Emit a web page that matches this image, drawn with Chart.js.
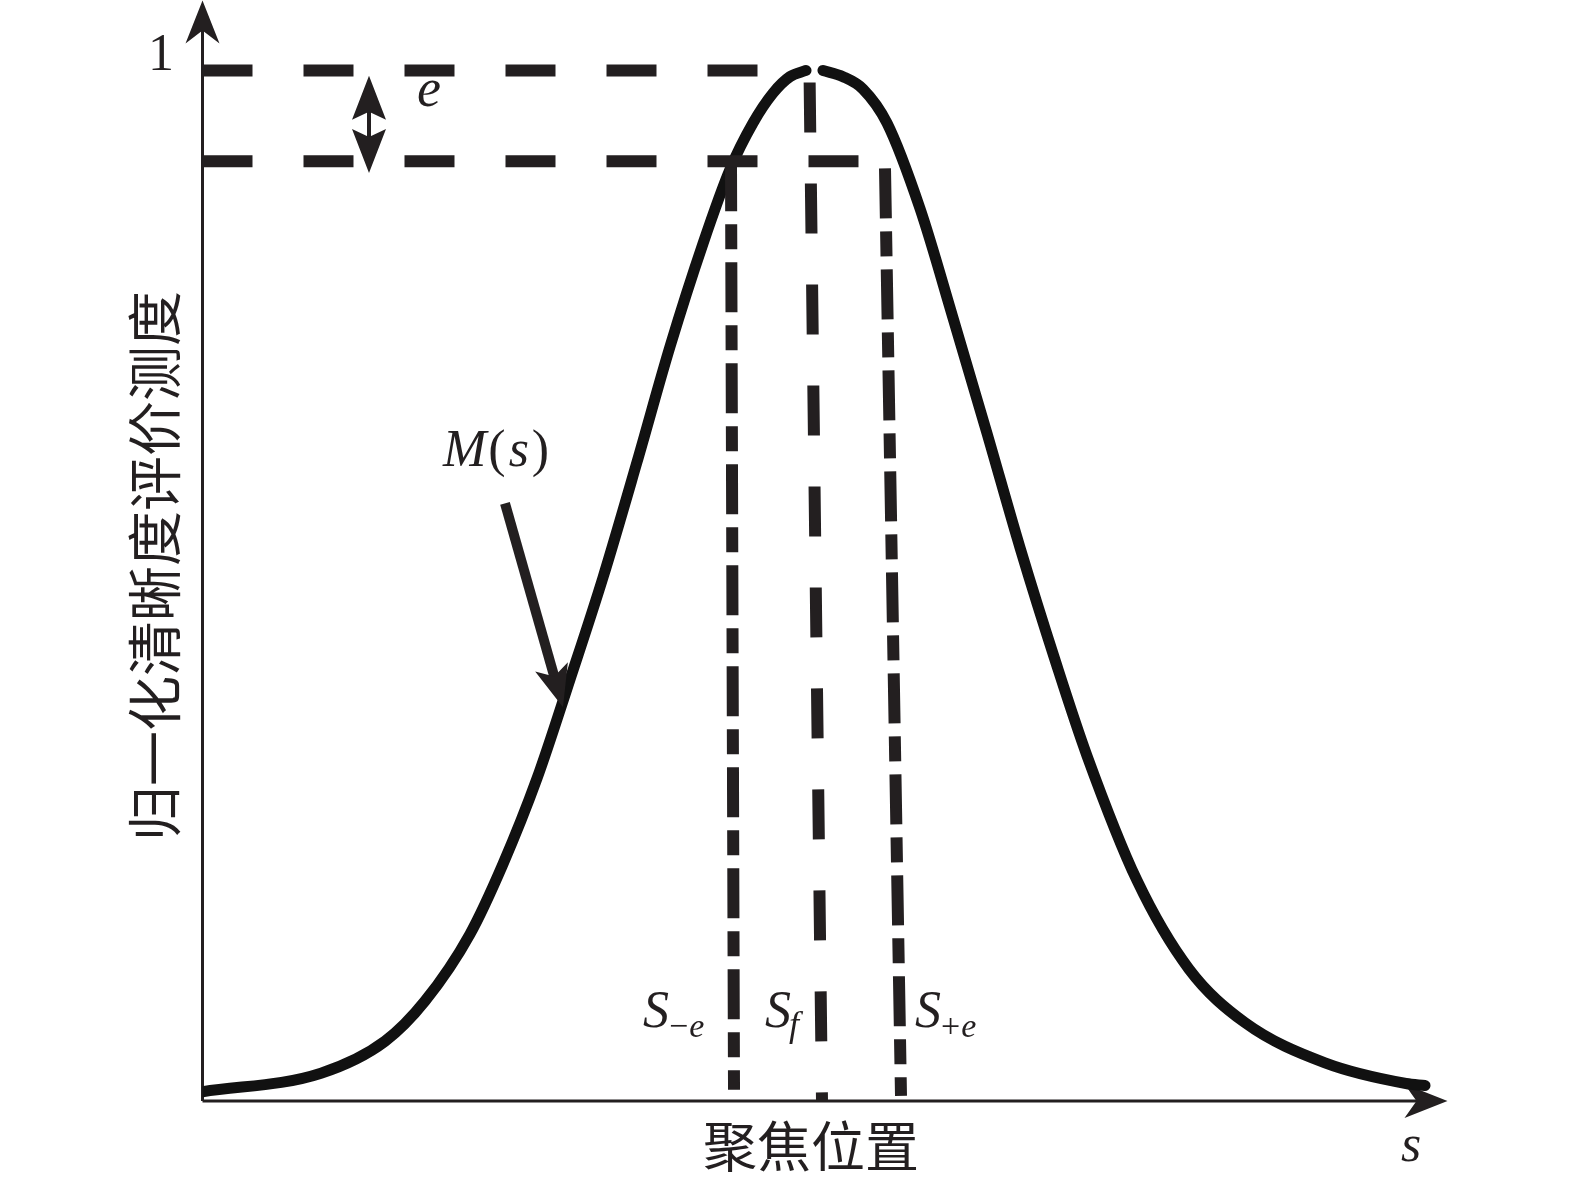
<!DOCTYPE html>
<html>
<head>
<meta charset="utf-8">
<script src="https://cdn.jsdelivr.net/npm/chart.js@4.4.0/dist/chart.umd.min.js"></script>
<style>
    html, body { margin: 0; padding: 0; background: #ffffff; }
    #wrap { width: 1575px; height: 1178px; }
</style>
</head>
<body>
<div id="wrap"><canvas id="chart" width="1575" height="1178"></canvas></div>
<script>
// Кривая M(s): положение фокуса -> нормированная мера резкости
const curveX = [0, 1.185, 1.825, 2.225, 2.675, 3.005, 3.345, 3.675, 4.005, 4.345, 4.675, 5.005, 5.275, 5.505, 5.705, 5.875, 6.035, 6.12, 6.205, 6.405, 6.605, 6.845, 7.175, 7.505, 7.845, 8.175, 8.535, 8.845, 9.345, 9.865, 10.425, 11.225, 12.035, 12.225];
const curveY = [0.009, 0.027, 0.058, 0.097, 0.162, 0.230, 0.313, 0.409, 0.508, 0.620, 0.732, 0.832, 0.904, 0.949, 0.978, 0.994, 1.0, null, 1.0, 0.994, 0.982, 0.949, 0.866, 0.760, 0.648, 0.537, 0.425, 0.335, 0.214, 0.128, 0.076, 0.037, 0.017, 0.015];

// Уровни 1 и 1 - e
const levelTop = 1.0;
const levelLow = 0.912;
const topLineX = [0, 5.55];
const lowLineX = [0, 6.56];

// Вертикальные линии S-e, Sf, S+e
const sMinusX = [5.285, 5.315];
const sMinusY = [0.912, 0.011];
const sFocusX = [6.07, 6.195];
const sFocusY = [1.0, 0];
const sPlusX = [6.825, 6.985];
const sPlusY = [0.905, 0.005];

// Стрелки
const eArrowX = 1.665;
const eArrowY = [0.995, 0.9005];
const mArrowX = [3.025, 3.605];
const mArrowY = [0.580, 0.382];
const xAxisEnd = 12.45;
const yAxisEnd = 1.068;

const ink = '#231f20';
const serif = '"Liberation Serif", "DejaVu Serif", serif';
const cjk = '"Noto Sans CJK SC", sans-serif';

function toPoints(xs, ys) {
    return xs.map((x, i) => ({ x: x, y: ys[i] }));
}

function dashed(xs, ys, dash, offset) {
    return {
        data: toPoints(xs, ys),
        borderColor: ink,
        borderWidth: 12,
        borderDash: dash,
        borderDashOffset: offset || 0,
        borderCapStyle: 'butt',
        pointRadius: 0,
        tension: 0,
        order: 1
    };
}

function arrowHead(ctx, tipX, tipY, angle, len, half, notch) {
    ctx.save();
    ctx.translate(tipX, tipY);
    ctx.rotate(angle);
    ctx.beginPath();
    ctx.moveTo(0, 0);
    ctx.lineTo(-len, -half);
    ctx.lineTo(-len + notch, 0);
    ctx.lineTo(-len, half);
    ctx.closePath();
    ctx.fill();
    ctx.restore();
}

// Оси, стрелки и подписи
const sketchPlugin = {
    id: 'sketch',
    beforeDatasetsDraw(chart) {
        const ctx = chart.ctx;
        const sx = chart.scales.x, sy = chart.scales.y;
        const x0 = sx.getPixelForValue(0), y0 = sy.getPixelForValue(0);
        const xEnd = sx.getPixelForValue(xAxisEnd), yEnd = sy.getPixelForValue(yAxisEnd);
        ctx.save();
        ctx.strokeStyle = ink;
        ctx.fillStyle = ink;
        ctx.lineWidth = 3;
        ctx.beginPath();
        ctx.moveTo(x0, y0);
        ctx.lineTo(x0, yEnd + 20);
        ctx.moveTo(x0, y0);
        ctx.lineTo(xEnd - 20, y0);
        ctx.stroke();
        arrowHead(ctx, x0, yEnd, -Math.PI / 2, 43, 17, 13);
        arrowHead(ctx, xEnd, y0, 0, 43, 17, 12);
        ctx.restore();
    },
    afterDatasetsDraw(chart) {
        const ctx = chart.ctx;
        const sx = chart.scales.x, sy = chart.scales.y;
        ctx.save();
        ctx.strokeStyle = ink;
        ctx.fillStyle = ink;

        // двойная стрелка e
        const ex = sx.getPixelForValue(eArrowX);
        const eTop = sy.getPixelForValue(eArrowY[0]);
        const eBot = sy.getPixelForValue(eArrowY[1]);
        ctx.lineWidth = 4;
        ctx.beginPath();
        ctx.moveTo(ex, eTop + 30);
        ctx.lineTo(ex, eBot - 30);
        ctx.stroke();
        arrowHead(ctx, ex, eTop, -Math.PI / 2, 44, 17, 8);
        arrowHead(ctx, ex, eBot, Math.PI / 2, 44, 17, 8);

        // стрелка к M(s)
        const ax0 = sx.getPixelForValue(mArrowX[0]), ay0 = sy.getPixelForValue(mArrowY[0]);
        const ax1 = sx.getPixelForValue(mArrowX[1]), ay1 = sy.getPixelForValue(mArrowY[1]);
        const ang = Math.atan2(ay1 - ay0, ax1 - ax0);
        ctx.lineWidth = 10;
        ctx.beginPath();
        ctx.moveTo(ax0, ay0);
        ctx.lineTo(ax1 - 30 * Math.cos(ang), ay1 - 30 * Math.sin(ang));
        ctx.stroke();
        arrowHead(ctx, ax1, ay1, ang, 42, 17, 10);

        ctx.textBaseline = 'alphabetic';
        // подпись "1"
        ctx.font = '52px ' + serif;
        ctx.textAlign = 'right';
        ctx.fillText('1', 174, 70);
        ctx.textAlign = 'left';

        // e
        ctx.font = 'italic 54px ' + serif;
        ctx.fillText('e', 417, 106);

        // M(s)
        let px = 443;
        ctx.font = 'italic 52px ' + serif;
        ctx.fillText('M', px, 466); px += ctx.measureText('M').width + 2;
        ctx.font = '52px ' + serif;
        ctx.fillText('(', px, 466); px += ctx.measureText('(').width + 3;
        ctx.font = 'italic 52px ' + serif;
        ctx.fillText('s', px, 466); px += ctx.measureText('s').width + 3;
        ctx.font = '52px ' + serif;
        ctx.fillText(')', px, 466);

        // S-e, Sf, S+e
        const subs = [['S', '\u2212e', 643], ['S', 'f', 765], ['S', '+e', 915]];
        subs.forEach(s => {
            ctx.font = 'italic 52px ' + serif;
            ctx.fillText(s[0], s[2], 1027);
            const w = ctx.measureText(s[0]).width;
            if (s[1] === 'f') {
                ctx.font = 'italic 36px ' + serif;
                ctx.fillText('f', s[2] + w - 2, 1036);
            } else {
                ctx.font = '34px ' + serif;
                ctx.fillText(s[1][0], s[2] + w, 1037);
                const w2 = ctx.measureText(s[1][0]).width;
                ctx.font = 'italic 34px ' + serif;
                ctx.fillText('e', s[2] + w + w2 + 1, 1037);
            }
        });

        // s на оси
        ctx.font = 'italic 52px ' + serif;
        ctx.fillText('s', 1401, 1161);

        // подпись оси X
        ctx.font = '54px ' + cjk;
        ctx.textAlign = 'center';
        ctx.textBaseline = 'middle';
        ctx.fillText('聚焦位置', 811, 1146);

        // подпись оси Y
        ctx.translate(154, 566);
        ctx.rotate(-Math.PI / 2);
        ctx.font = '55px ' + cjk;
        ctx.fillText('归一化清晰度评价测度', 0, 0);
        ctx.restore();
    }
};

new Chart(document.getElementById('chart'), {
    type: 'line',
    data: {
        datasets: [
            dashed(topLineX, [levelTop, levelTop], [50, 51]),
            dashed(lowLineX, [levelLow, levelLow], [50, 51]),
            dashed(sMinusX, sMinusY, [50, 13, 25, 13]),
            dashed(sFocusX, sFocusY, [50, 51], 89),
            dashed(sPlusX, sPlusY, [50, 13, 25, 13]),
            {
                data: toPoints(curveX, curveY),
                borderColor: '#111111',
                borderWidth: 11,
                borderCapStyle: 'round',
                pointRadius: 0,
                cubicInterpolationMode: 'monotone',
                spanGaps: false,
                order: 2
            }
        ]
    },
    options: {
        responsive: false,
        animation: false,
        events: [],
        layout: { padding: { left: 202.5, right: 122.5, top: 0, bottom: 77 } },
        scales: {
            x: { type: 'linear', min: 0, max: 12.5, display: false },
            y: { type: 'linear', min: 0, max: 1.0684, display: false }
        },
        plugins: {
            legend: { display: false },
            tooltip: { enabled: false }
        }
    },
    plugins: [sketchPlugin]
});
</script>
</body>
</html>
